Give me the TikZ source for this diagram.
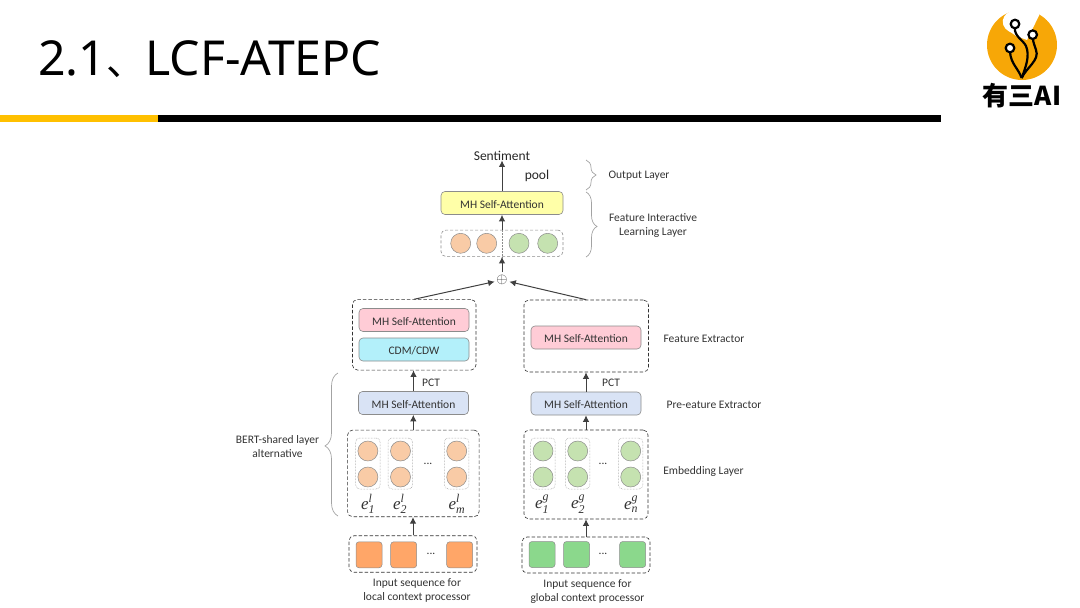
\documentclass[tikz,border=0pt]{standalone}
\usepackage{amsmath}
\usepackage{amssymb}
\usepackage{fontspec}
\setmainfont{Carlito}
\newfontfamily\titlefont{Noto Sans}
\newfontfamily\cjkfont{Noto Sans CJK SC}
\newfontfamily\emfont{Liberation Serif}
\usetikzlibrary{arrows.meta,decorations.pathreplacing}
\definecolor{txtgray}{HTML}{333333}
\definecolor{linegray}{HTML}{8C8C8C}
\definecolor{barorange}{HTML}{FFC000}
\definecolor{logoorange}{HTML}{F7A707}
\definecolor{pinkfill}{HTML}{FFCCD6}
\definecolor{cyanfill}{HTML}{B3F0FA}
\definecolor{bluefill}{HTML}{D9E3F5}
\definecolor{yellowfill}{HTML}{FFFFA8}
\definecolor{orangedotfill}{HTML}{F9CBA6}
\definecolor{greendotfill}{HTML}{C5E2B0}
\definecolor{orangesqfill}{HTML}{FFA668}
\definecolor{greensqfill}{HTML}{8BD88C}
\newcommand{\emb}[2]{{\fontsize{17}{17}\selectfont\emfont\itshape e$^{\text{\emfont\itshape #1}}_{\text{\emfont\itshape #2}}$}}
\tikzset{
  lbl/.style={text=txtgray,font=\fontsize{11.5}{14}\selectfont,align=center,inner sep=0pt,yshift=-1pt},
  embtxt/.style={inner sep=0pt,text=txtgray},
  attbox/.style={draw=linegray,rounded corners=4pt,line width=.6pt,minimum width=110pt,minimum height=23pt,inner sep=0pt,text=txtgray,font=\fontsize{11.5}{14}\selectfont,text height=10pt,text depth=0pt},
  dashbox/.style={draw=txtgray,dashed,dash pattern=on 3.5pt off 2pt,rounded corners=5pt,line width=.6pt,inner sep=0pt},
  dotbox/.style={draw=linegray,densely dotted,rounded corners=4pt,line width=.5pt,inner sep=0pt,minimum width=24.5pt,minimum height=51pt},
  orangedot/.style={circle,draw=linegray,fill=orangedotfill,minimum size=20pt,inner sep=0pt,line width=.5pt},
  greendot/.style={circle,draw=linegray,fill=greendotfill,minimum size=20pt,inner sep=0pt,line width=.5pt},
  orangesq/.style={draw=linegray,fill=orangesqfill,rounded corners=3pt,minimum size=26pt,inner sep=0pt,line width=.5pt},
  greensq/.style={draw=linegray,fill=greensqfill,rounded corners=3pt,minimum size=26pt,inner sep=0pt,line width=.5pt},
  arrow/.style={-{Latex[length=6.5pt,width=6.5pt]},draw=black!75,line width=1pt},
  layerbrace/.style={draw=linegray!80,line width=.7pt,decorate,decoration={brace,amplitude=#1}},
}
\begin{document}
\begin{tikzpicture}[x=1pt,y=-1pt]
\useasboundingbox (0,0) rectangle (1080,608);
% title and bar
\node[anchor=west,inner sep=0pt,text=black,font=\fontsize{48.2}{50}\selectfont\titlefont] (title) at (38,59) {2.1{\cjkfont\fontsize{39}{39}\selectfont 、}LCF-ATEPC};
\fill[barorange] (0,115) rectangle (158,122);
\fill[black] (158,115) rectangle (941,122);
% logo
\fill[logoorange] (1022,45) circle (35);
\fill[white] (1013.3,10) .. controls (1005,13) and (1001,19) .. (1003.3,25) .. controls (1005,31) and (1012,32) .. (1016,36) -- (1027,40) -- (1039.3,15) -- (1032,4) -- cycle;
\draw[black,line width=2.2pt] (1021.7,78) .. controls (1018,68) and (1011,64) .. (1010,52);
\draw[black,line width=2.2pt] (1021.7,78) .. controls (1026,66) and (1030,56) .. (1026,46) .. controls (1023,40) and (1014,36) .. (1015,28);
\draw[black,line width=2.2pt] (1021.7,78) .. controls (1026,68) and (1040,60) .. (1036,50) .. controls (1035,46) and (1033,43) .. (1033,38);
\draw[black,line width=2.2pt,fill=white] (1015,24) circle (4.3);
\draw[black,line width=2.2pt,fill=white] (1032.7,34.7) circle (4.3);
\draw[black,line width=2.2pt,fill=white] (1010,48) circle (4.3);
\node[inner sep=0pt,font=\fontsize{26}{26}\selectfont\cjkfont\bfseries] (logotext) at (1022,96) {有三AI};
% output part
\node[lbl,text=black!85,font=\fontsize{13.5}{14}\selectfont] (sentiment) at (502,154.5) {Sentiment};
\node[lbl,text=black!85,font=\fontsize{13.5}{14}\selectfont] (pool) at (537,175) {pool};
\node[attbox,fill=yellowfill,minimum width=122pt] (mhtop) at (502,203) {MH Self-Attention};
\node[dashbox,draw=linegray,densely dashed,minimum width=122pt,minimum height=26.5pt] (fusion) at (502,243.3) {};
\draw[linegray,densely dotted,line width=.5pt] (fusion.north) -- (fusion.south);
\node[orangedot] (fl1) at (460.7,243.3) {};
\node[orangedot] (fl2) at (486.7,243.3) {};
\node[greendot] (fg1) at (519,243.3) {};
\node[greendot] (fg2) at (547.7,243.3) {};
\node[circle,inner sep=0pt,text=txtgray,font=\fontsize{15}{15}\selectfont] (oplus) at (502,280) {$\oplus$};
\draw[arrow] (mhtop.north) -- (sentiment.south);
\draw[arrow] (fusion.north) -- (mhtop.south);
\draw[arrow] (oplus.north) -- (fusion.south);
% feature extractors
\node[dashbox,minimum width=123.5pt,minimum height=70.5pt] (featl) at (414.2,334.8) {};
\node[dashbox,minimum width=124.5pt,minimum height=72pt] (featg) at (586.2,336) {};
\node[attbox,fill=pinkfill] (mhl) at (414,320) {MH Self-Attention};
\node[attbox,fill=cyanfill] (cdm) at (414,349.5) {CDM/CDW};
\node[attbox,fill=pinkfill] (mhg) at (586,337.5) {MH Self-Attention};
\draw[arrow] (featl.north) -- (oplus);
\draw[arrow] (featg.north) -- (oplus);
% pre-feature extractors
\node[attbox,fill=bluefill] (prel) at (413.5,403) {MH Self-Attention};
\node[attbox,fill=bluefill] (preg) at (586,403.5) {MH Self-Attention};
\node[lbl] (pctl) at (431,382) {PCT};
\node[lbl] (pctg) at (611,382) {PCT};
\draw[arrow] (prel.north) -- (prel.north |- featl.south);
\draw[arrow] (preg.north) -- (preg.north |- featg.south);
% embedding layers
\node[dashbox,minimum width=131.5pt,minimum height=86.7pt] (embl) at (413.3,473.4) {};
\node[dashbox,minimum width=124pt,minimum height=89pt] (embg) at (586,474.5) {};
\node[dotbox] (coll1) at (367.9,463.5) {};
\node[dotbox] (coll2) at (400.3,463.5) {};
\node[dotbox] (coll3) at (456.6,463.5) {};
\node[dotbox] (colg1) at (542.9,463.5) {};
\node[dotbox] (colg2) at (577.5,463.5) {};
\node[dotbox] (colg3) at (630.6,463.5) {};
\node[orangedot] (el1a) at (367.9,451) {};
\node[orangedot] (el1b) at (367.9,477) {};
\node[orangedot] (el2a) at (400.5,451) {};
\node[orangedot] (el2b) at (400.5,477) {};
\node[orangedot] (el3a) at (456.7,451) {};
\node[orangedot] (el3b) at (456.7,477) {};
\node[greendot] (eg1a) at (543,451) {};
\node[greendot] (eg1b) at (543,477) {};
\node[greendot] (eg2a) at (577.7,451) {};
\node[greendot] (eg2b) at (577.7,477) {};
\node[greendot] (eg3a) at (630.7,451) {};
\node[greendot] (eg3b) at (630.7,477) {};
\node[lbl] (dotsl) at (428,463) {...};
\node[lbl] (dotsg) at (603,463) {...};
\node[embtxt] (txl1) at (368,504) {\emb{l}{1}};
\node[embtxt] (txl2) at (400,504) {\emb{l}{2}};
\node[embtxt] (txl3) at (457,504) {\emb{l}{m}};
\node[embtxt] (txg1) at (542,504) {\emb{g}{1}};
\node[embtxt] (txg2) at (578,504) {\emb{g}{2}};
\node[embtxt] (txg3) at (631,504) {\emb{g}{n}};
\draw[arrow] (embl.north) -- (embl.north |- prel.south);
\draw[arrow] (embg.north) -- (embg.north |- preg.south);
% input sequences
\node[dashbox,minimum width=128pt,minimum height=36.5pt] (inl) at (413,554) {};
\node[dashbox,minimum width=128pt,minimum height=36pt] (ing) at (586,555) {};
\node[orangesq] (sl1) at (369,554.8) {};
\node[orangesq] (sl2) at (403.7,554.8) {};
\node[orangesq] (sl3) at (459.7,554.8) {};
\node[greensq] (sg1) at (542,554.5) {};
\node[greensq] (sg2) at (576.5,554.5) {};
\node[greensq] (sg3) at (632.7,554.5) {};
\node[lbl] (dotsinl) at (431,553) {...};
\node[lbl] (dotsing) at (603,553) {...};
\node[lbl] (capl) at (417,589) {Input sequence for\\local context processor};
\node[lbl] (capg) at (587.5,591) {Input sequence for\\global context processor};
\draw[arrow] (inl.north) -- (inl.north |- embl.south);
\draw[arrow] (ing.north) -- (ing.north |- embg.south);
% layer labels
\draw[layerbrace=10pt,decoration={aspect=.5}] (586,160) -- (586,190);
\draw[layerbrace=11pt,decoration={aspect=.53}] (586,192) -- (586,257);
\draw[layerbrace=13pt,decoration={aspect=.49}] (338,516) -- (338,373);
\node[lbl] (outputlayer) at (639,175) {Output Layer};
\node[lbl] (interlayer) at (653,225) {Feature Interactive\\Learning Layer};
\node[lbl] (featlayer) at (704,338) {Feature Extractor};
\node[lbl] (prelayer) at (714,404) {Pre-eature Extractor};
\node[lbl] (emblayer) at (703.5,470) {Embedding Layer};
\node[lbl] (bertlayer) at (277.5,446) {BERT-shared layer\\alternative};
\end{tikzpicture}
\end{document}
